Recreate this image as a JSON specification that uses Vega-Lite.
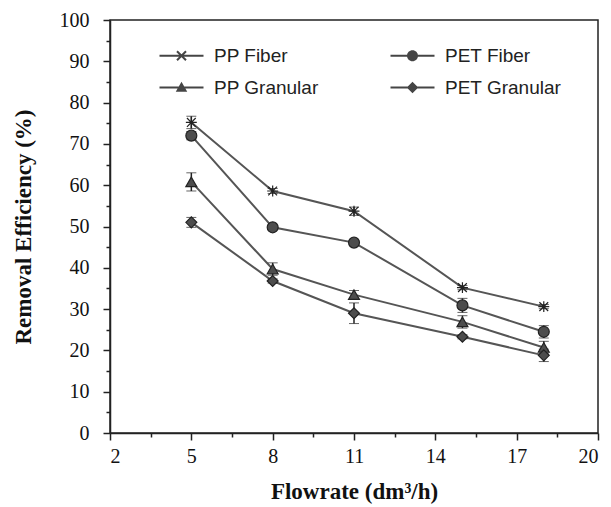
{
  "$schema": "https://vega.github.io/schema/vega-lite/v6.json",
  "width": 488,
  "height": 413,
  "autosize": {"type": "none"},
  "padding": {"left": 110, "top": 20, "right": 13, "bottom": 74},
  "background": "white",
  "config": {
    "view": {"stroke": "#222", "strokeWidth": 1.5},
    "axis": {
      "domainColor": "#222", "domainWidth": 1.5, "tickColor": "#222", "tickWidth": 1.5,
      "grid": false, "labelFont": "Liberation Serif", "labelFontSize": 20, "labelColor": "#111",
      "titleFont": "Liberation Serif", "titleFontSize": 23, "titleFontWeight": "bold", "titleColor": "#111"
    }
  },
  "data": {
    "values": [
      {"series": "PP Fiber", "flow": 5, "eff": 75.2, "lo": 73.7, "hi": 76.7},
      {"series": "PP Fiber", "flow": 8, "eff": 58.6, "lo": 58.0, "hi": 59.2},
      {"series": "PP Fiber", "flow": 11, "eff": 53.7, "lo": 52.7, "hi": 54.7},
      {"series": "PP Fiber", "flow": 15, "eff": 35.2, "lo": 34.7, "hi": 35.7},
      {"series": "PP Fiber", "flow": 18, "eff": 30.6, "lo": 30.1, "hi": 31.1},
      {"series": "PET Fiber", "flow": 5, "eff": 72.0, "lo": 71.0, "hi": 73.0},
      {"series": "PET Fiber", "flow": 8, "eff": 49.8, "lo": 49.3, "hi": 50.3},
      {"series": "PET Fiber", "flow": 11, "eff": 46.1, "lo": 45.6, "hi": 46.6},
      {"series": "PET Fiber", "flow": 15, "eff": 30.9, "lo": 29.2, "hi": 32.6},
      {"series": "PET Fiber", "flow": 18, "eff": 24.5, "lo": 23.0, "hi": 26.0},
      {"series": "PP Granular", "flow": 5, "eff": 60.8, "lo": 58.6, "hi": 63.0},
      {"series": "PP Granular", "flow": 8, "eff": 39.7, "lo": 38.2, "hi": 41.2},
      {"series": "PP Granular", "flow": 11, "eff": 33.5, "lo": 32.5, "hi": 34.5},
      {"series": "PP Granular", "flow": 15, "eff": 26.9, "lo": 25.4, "hi": 28.4},
      {"series": "PP Granular", "flow": 18, "eff": 20.7, "lo": 19.2, "hi": 22.2},
      {"series": "PET Granular", "flow": 5, "eff": 51.0, "lo": 49.8, "hi": 52.2},
      {"series": "PET Granular", "flow": 8, "eff": 36.8, "lo": 36.3, "hi": 37.3},
      {"series": "PET Granular", "flow": 11, "eff": 29.0, "lo": 26.5, "hi": 31.5},
      {"series": "PET Granular", "flow": 15, "eff": 23.3, "lo": 22.8, "hi": 23.8},
      {"series": "PET Granular", "flow": 18, "eff": 18.8, "lo": 17.3, "hi": 20.3}
    ]
  },
  "layer": [
    {
      "mark": {"type": "line", "color": "#555", "strokeWidth": 2},
      "encoding": {
        "x": {"field": "flow", "type": "quantitative", "scale": {"domain": [2, 20], "nice": false},
              "axis": {"orient": "bottom", "values": [2, 5, 8, 11, 14, 17, 20], "tickSize": 7, "labelPadding": 6, "title": "Flowrate (dm³/h)", "titlePadding": 14}},
        "y": {"field": "eff", "type": "quantitative", "scale": {"domain": [0, 100], "nice": false},
              "axis": {"orient": "left", "values": [0, 10, 20, 30, 40, 50, 60, 70, 80, 90, 100], "tickSize": 7, "labelPadding": 14, "title": "Removal Efficiency (%)", "titlePadding": 24}},
        "detail": {"field": "series"}
      }
    },
    {
      "mark": {"type": "errorbar", "ticks": {"size": 10, "color": "#222", "strokeWidth": 1.5}, "rule": {"color": "#222", "strokeWidth": 1.5}},
      "encoding": {
        "x": {"field": "flow", "type": "quantitative", "axis": null},
        "y": {"field": "lo", "type": "quantitative", "axis": null},
        "y2": {"field": "hi"},
        "detail": {"field": "series"}
      }
    },
    {
      "mark": {"type": "point", "filled": true, "size": 120, "color": "#4d4d4d", "stroke": "#222", "strokeWidth": 1.2, "opacity": 1},
      "encoding": {
        "x": {"field": "flow", "type": "quantitative", "axis": null},
        "y": {"field": "eff", "type": "quantitative", "axis": null},
        "shape": {"field": "series", "type": "nominal",
          "scale": {"domain": ["PP Fiber", "PET Fiber", "PP Granular", "PET Granular"],
                    "range": ["M-1,0L1,0M-0.8,-0.8L0.8,0.8M-0.8,0.8L0.8,-0.8M0,-1L0,1", "circle", "triangle-up", "diamond"]},
          "legend": null}
      }
    },
    {
      "transform": [{"filter": "datum.flow < 0"}],
      "mark": {"type": "point", "filled": true, "size": 100, "color": "#454545", "opacity": 1},
      "encoding": {
        "x": {"field": "flow", "type": "quantitative",
              "axis": {"values": [3.5, 6.5, 9.5, 12.5, 15.5, 18.5], "labels": false, "domain": false, "tickSize": 4, "title": null, "orient": "bottom"}},
        "y": {"field": "eff", "type": "quantitative",
              "axis": {"values": [5, 15, 25, 35, 45, 55, 65, 75, 85, 95], "labels": false, "domain": false, "tickSize": 4, "title": null, "orient": "left"}},
        "shape": {"field": "series", "type": "nominal",
          "scale": {"domain": ["PP Fiber", "PP Granular", "PET Fiber", "PET Granular"],
                    "range": [
                      "M-4.4,-0.2H4.4V0.2H-4.4ZM-0.759,-1.041L1.041,0.759L0.759,1.041L-1.041,-0.759ZM-1.041,0.759L0.759,-1.041L1.041,-0.759L-0.759,1.041Z",
                      "M-4.4,-0.2H4.4V0.2H-4.4ZM0,-1.15L1.15,0.85L-1.15,0.85Z",
                      "M-4.4,-0.2H4.4V0.2H-4.4ZM-1.1,0A1.1,1.1,0,1,1,1.1,0A1.1,1.1,0,1,1,-1.1,0Z",
                      "M-4.4,-0.2H4.4V0.2H-4.4ZM0,-1.15L1.15,0L0,1.15L-1.15,0Z"
                    ]},
          "legend": {"orient": "none", "legendX": 62, "legendY": 26, "columns": 2, "columnPadding": 59, "rowPadding": 12,
                     "symbolSize": 100, "symbolStrokeWidth": 0, "symbolFillColor": "#454545",
                     "labelFont": "Liberation Sans", "labelFontSize": 19, "labelColor": "#222", "labelOffset": 23,
                     "title": null, "gridAlign": "all"}}
      }
    }
  ],
  "resolve": {
    "scale": {"shape": "independent"},
    "legend": {"shape": "independent"},
    "axis": {"x": "independent", "y": "independent"}
  }
}
